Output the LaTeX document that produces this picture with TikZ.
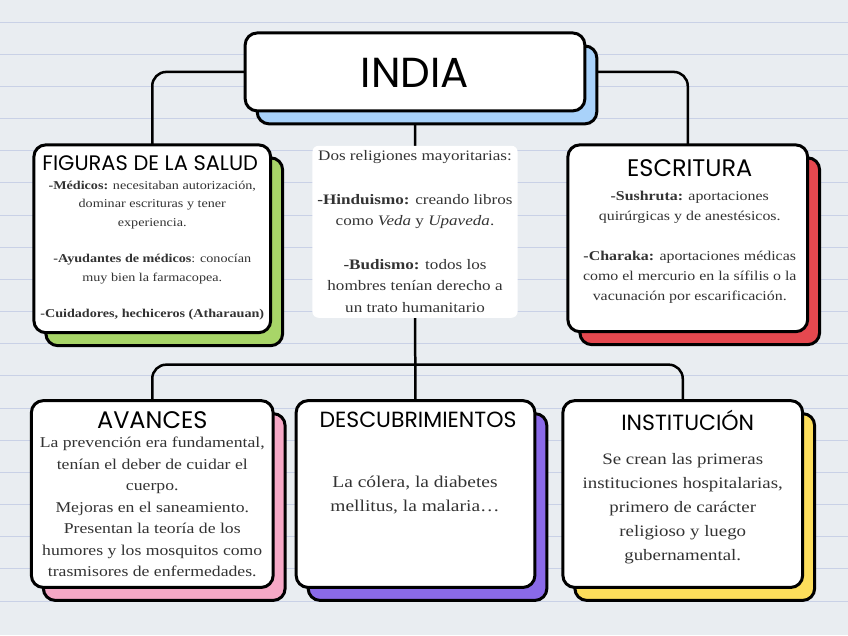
\documentclass[tikz,border=0pt]{standalone}
\usepackage{fontspec}
\setmainfont{Liberation Serif}[FakeStretch=1.18]
\newfontfamily\headfont{Poppins}
\usetikzlibrary{shadows}

\definecolor{paper}{HTML}{E9EDF1}
\definecolor{ruleblue}{HTML}{C9D1E6}
\definecolor{indiablue}{HTML}{A9D2FA}
\definecolor{saludgreen}{HTML}{A8D568}
\definecolor{escred}{HTML}{E5484F}
\definecolor{avpink}{HTML}{F6A8C6}
\definecolor{descpurple}{HTML}{8A6AE8}
\definecolor{instyellow}{HTML}{FDDE5B}

\pgfdeclarelayer{paperlayer}
\pgfdeclarelayer{links}
\pgfsetlayers{paperlayer,links,main}

\begin{document}
\begin{tikzpicture}[x=1pt,y=-1pt,
  card/.style={draw=black,line width=3pt,fill=white,rounded corners=12pt,
    copy shadow={shadow xshift=12pt,shadow yshift=-13pt,fill=#1,draw=black,line width=3pt}},
  link/.style={draw=black,line width=2.5pt,rounded corners=14pt},
  headtxt/.style={font=\headfont\fontsize{23}{23}\selectfont,inner sep=0pt},
  bodytxt/.style={align=center,inner sep=0pt,text=black!80}]
  % paper
  \begin{pgfonlayer}{paperlayer}
    \fill[paper] (0,0) rectangle (848,636);
    \foreach \k in {0,...,18}
      \draw[ruleblue,line width=0.8pt] (0,22+32.2*\k) -- (848,22+32.2*\k);
  \end{pgfonlayer}

  % cards
  \node[card=indiablue,minimum width=340pt,minimum height=78pt] (india) at (415,72) {};
  \node[card=saludgreen,minimum width=237pt,minimum height=188pt] (figuras) at (152,239) {};
  \node[card=escred,minimum width=240pt,minimum height=187pt] (escritura) at (688,238.5) {};
  \node[card=avpink,minimum width=242pt,minimum height=187pt] (avances) at (152,494.5) {};
  \node[card=descpurple,minimum width=239pt,minimum height=187pt] (descub) at (415.5,494.5) {};
  \node[card=instyellow,minimum width=240pt,minimum height=187pt] (instit) at (683,494.5) {};
  \coordinate (bus) at (415,365);

  % headings
  \node[headtxt,font=\headfont\fontsize{42}{42}\selectfont] (india-h) at (415,73) {INDIA};
  \node[headtxt,font=\headfont\fontsize{21}{21}\selectfont] (figuras-h) at (150,163) {FIGURAS DE LA SALUD};
  \node[headtxt,font=\headfont\fontsize{24}{24}\selectfont] (escritura-h) at (690,168) {ESCRITURA};
  \node[headtxt,font=\headfont\fontsize{24}{24}\selectfont] (avances-h) at (152,421) {AVANCES};
  \node[headtxt,font=\headfont\fontsize{22}{22}\selectfont] (descub-h) at (418,420) {DESCUBRIMIENTOS};
  \node[headtxt,font=\headfont\fontsize{22}{22}\selectfont] (instit-h) at (688,421) {INSTITUCIÓN};

  % texts
  \node[bodytxt,font=\fontsize{12}{18.3}\selectfont] (figuras-txt) at (152,251)
    {\textbf{-Médicos:} necesitaban autorización,\\ dominar escrituras y tener\\ experiencia.\\ ~\\
     \textbf{-Ayudantes de médicos}: conocían\\ muy bien la farmacopea.\\ ~\\
     \textbf{-Cuidadores, hechiceros (Atharauan)}};
  \node[bodytxt,fill=white,inner sep=5pt,rounded corners=6pt,font=\fontsize{14.5}{21.7}\selectfont] (religiones) at (415,232)
    {Dos religiones mayoritarias:\\ ~\\ \textbf{-Hinduismo:} creando libros\\ como \textit{Veda} y \textit{Upaveda}.\\ ~\\
     \textbf{-Budismo:} todos los\\ hombres tenían derecho a\\ un trato humanitario};
  \node[bodytxt,font=\fontsize{13.5}{20}\selectfont] (escritura-txt) at (690,247.5)
    {\textbf{-Sushruta:} aportaciones\\ quirúrgicas y de anestésicos.\\ ~\\
     \textbf{-Charaka:} aportaciones médicas\\ como el mercurio en la sífilis o la\\ vacunación por escarificación.};
  \node[bodytxt,font=\fontsize{15}{21.5}\selectfont] (avances-txt) at (152,507.5)
    {La prevención era fundamental,\\ tenían el deber de cuidar el\\ cuerpo.\\ Mejoras en el saneamiento.\\
     Presentan la teoría de los\\ humores y los mosquitos como\\ trasmisores de enfermedades.};
  \node[bodytxt,font=\fontsize{16.5}{25}\selectfont] (descub-txt) at (415,495.5)
    {La cólera, la diabetes\\ mellitus, la malaria\dots};
  \node[bodytxt,font=\fontsize{16}{24}\selectfont] (instit-txt) at (683,509)
    {Se crean las primeras\\ instituciones hospitalarias,\\ primero de carácter\\ religioso y luego\\ gubernamental.};

  % connectors
  \begin{pgfonlayer}{links}
    \draw[link] (india.center) -| (figuras.center);
    \draw[link] (india.center) -| (escritura.center);
    \draw[link] (india.center) -- (religiones.center) -- (descub.center);
    \draw[link] (avances.center) |- (bus) -| (instit.center);
  \end{pgfonlayer}
\end{tikzpicture}
\end{document}
